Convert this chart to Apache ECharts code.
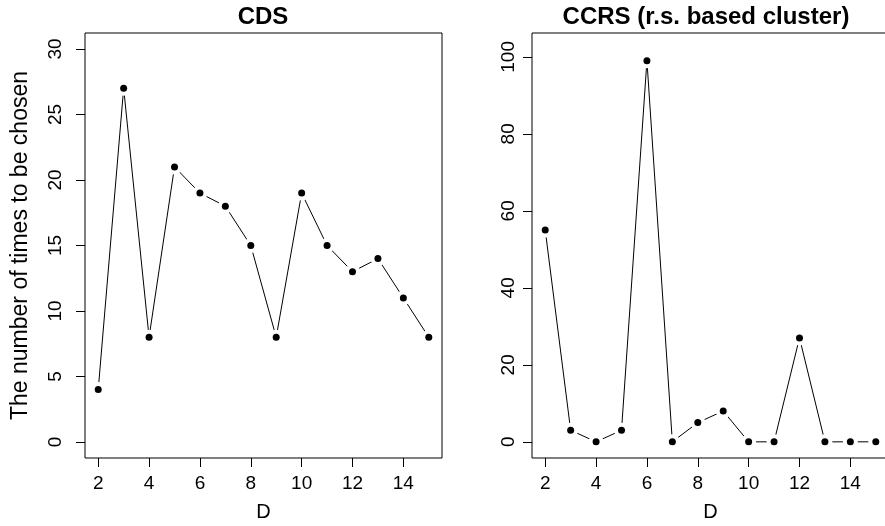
<!DOCTYPE html>
<html>
<head>
<meta charset="utf-8">
<script src="https://cdn.jsdelivr.net/npm/echarts@6/dist/echarts.min.js"></script>
<style>
html, body { margin: 0; background: #fff; }
#chart { width: 885px; height: 526px; }
</style>
</head>
<body>
<div id="chart"></div>
<script>
var dims = [2, 3, 4, 5, 6, 7, 8, 9, 10, 11, 12, 13, 14, 15];
var cdsCounts = [4, 27, 8, 21, 19, 18, 15, 8, 19, 15, 13, 14, 11, 8];
var ccrsCounts = [55, 3, 0, 3, 99, 0, 5, 8, 0, 0, 27, 0, 0, 0];
var xTicks = [2, 4, 6, 8, 10, 12, 14];
var cdsTicks = [0, 5, 10, 15, 20, 25, 30];
var ccrsTicks = [0, 20, 40, 60, 80, 100];

var font = 'Liberation Sans, Arial, Helvetica, sans-serif';

function pairs(ys) {
    return dims.map(function (d, i) { return [d, ys[i]]; });
}

function xAxisFor(idx) {
    return {
        gridIndex: idx,
        type: 'value',
        min: 1.48,
        max: 15.52,
        name: 'D',
        nameLocation: 'middle',
        nameGap: 44,
        nameTextStyle: { fontFamily: font, fontSize: 20, color: '#000' },
        axisLine: { show: false, onZero: false },
        axisTick: { show: true, length: 9, customValues: xTicks, lineStyle: { color: '#000' } },
        axisLabel: { customValues: xTicks, margin: 16, fontFamily: font, fontSize: 19, color: '#000' },
        splitLine: { show: false }
    };
}

function yAxisFor(idx, lo, hi, ticks, margin) {
    return {
        gridIndex: idx,
        type: 'value',
        min: lo,
        max: hi,
        axisLine: { show: false, onZero: false },
        axisTick: { show: true, length: 9, customValues: ticks, lineStyle: { color: '#000' } },
        axisLabel: { customValues: ticks, rotate: 90, margin: margin, fontFamily: font, fontSize: 19, color: '#000' },
        splitLine: { show: false }
    };
}

function seriesFor(idx, ys) {
    var data = pairs(ys);
    return [
        { type: 'line', xAxisIndex: idx, yAxisIndex: idx, data: data, symbol: 'none',
          lineStyle: { color: '#000', width: 1 }, z: 2, silent: true },
        // white halo gives the R type="b" gaps
        { type: 'scatter', xAxisIndex: idx, yAxisIndex: idx, data: data, symbolSize: 15,
          itemStyle: { color: '#fff', opacity: 1 }, z: 3, silent: true },
        { type: 'scatter', xAxisIndex: idx, yAxisIndex: idx, data: data, symbolSize: 7,
          itemStyle: { color: '#000', opacity: 1 }, z: 4 }
    ];
}

var myChart = echarts.init(document.getElementById('chart'));
var yLeft = yAxisFor(0, -1.22, 31.22, cdsTicks, 20);
yLeft.name = 'The number of times to be chosen';
yLeft.nameLocation = 'middle';
yLeft.nameGap = 53;
yLeft.nameTextStyle = { fontFamily: font, fontSize: 23, color: '#000' };

var option = {
    animation: false,
    backgroundColor: '#fff',
    grid: [
        { left: 85, top: 33, width: 357, height: 425, show: true, borderColor: '#000', borderWidth: 1,
          backgroundColor: 'transparent', outerBoundsMode: 'none' },
        { left: 532, top: 33, width: 357, height: 425, show: true, borderColor: '#000', borderWidth: 1,
          backgroundColor: 'transparent', outerBoundsMode: 'none' }
    ],
    xAxis: [xAxisFor(0), xAxisFor(1)],
    yAxis: [yLeft, yAxisFor(1, -4.2, 106.2, ccrsTicks, 14)],
    graphic: [
        { type: 'text', x: 263, y: 17, style: { text: 'CDS', font: 'bold 24px ' + font,
          textAlign: 'center', textVerticalAlign: 'middle', fill: '#000' } },
        { type: 'text', x: 706, y: 17, style: { text: 'CCRS (r.s. based cluster)', font: 'bold 24px ' + font,
          textAlign: 'center', textVerticalAlign: 'middle', fill: '#000' } }
    ],
    series: seriesFor(0, cdsCounts).concat(seriesFor(1, ccrsCounts))
};
myChart.setOption(option);
</script>
</body>
</html>
